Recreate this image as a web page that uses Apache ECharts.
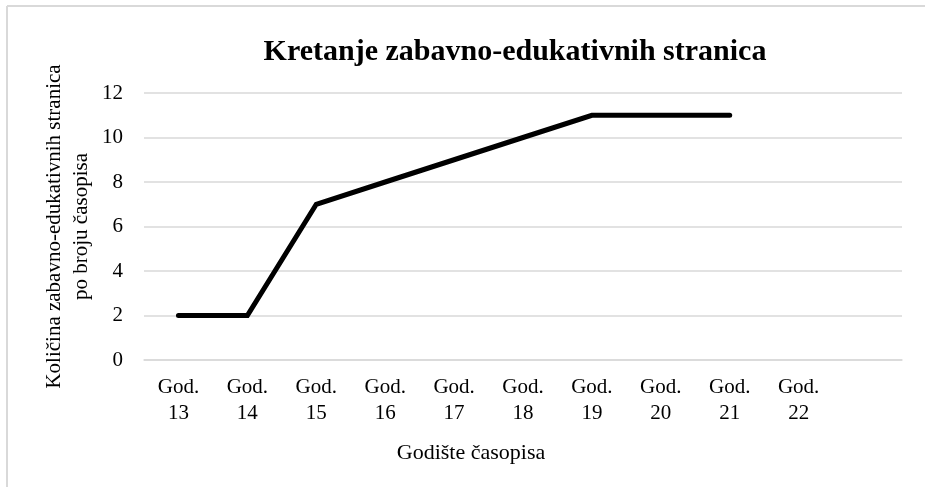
<!DOCTYPE html>
<html>
<head>
<meta charset="utf-8">
<script src="https://cdn.jsdelivr.net/npm/echarts@6/dist/echarts.min.js"></script>
<style>
html,body{margin:0;padding:0;background:#fff;overflow:hidden;}
#chart{width:925px;height:487px;}
</style>
</head>
<body>
<div id="chart"></div>
<script>
var categories = ['God.\n13','God.\n14','God.\n15','God.\n16','God.\n17','God.\n18','God.\n19','God.\n20','God.\n21','God.\n22',''];
var values = [2, 2, 7, 8, 9, 10, 11, 11, 11, null, null];
var yTicks = {min: 0, max: 12, interval: 2};
var titleText = 'Kretanje zabavno-edukativnih stranica';
var xName = 'Godište časopisa';
var yName = 'Količina zabavno-edukativnih stranica\npo broju časopisa';

var FONT = "'Liberation Serif', 'Times New Roman', serif";
var chart = echarts.init(document.getElementById('chart'), null, {renderer: 'canvas'});
chart.setOption({
  animation: false,
  backgroundColor: '#fff',
  textStyle: {fontFamily: FONT},
  graphic: [
    {type: 'line', silent: true, z: -10, shape: {x1: 7, y1: 6, x2: 925, y2: 6}, style: {stroke: '#d9d9d9', lineWidth: 2}},
    {type: 'line', silent: true, z: -10, shape: {x1: 7, y1: 6, x2: 7, y2: 487}, style: {stroke: '#d9d9d9', lineWidth: 2}}
  ],
  title: {
    text: titleText,
    left: 510, top: 32, textAlign: 'center',
    textStyle: {fontFamily: FONT, fontWeight: 'bold', fontSize: 30, color: '#000'}
  },
  grid: {left: 144, right: 23, top: 93, bottom: 127, containLabel: false},
  xAxis: {
    type: 'category',
    data: categories,
    boundaryGap: true,
    axisLine: {show: true, lineStyle: {color: '#d9d9d9', width: 1.5}},
    axisTick: {show: false},
    axisLabel: {fontFamily: FONT, fontSize: 21, color: '#000', lineHeight: 26, margin: 14, interval: 0},
    name: xName,
    nameLocation: 'middle',
    nameGap: 82,
    nameMoveOverlap: false,
    nameTextStyle: {fontFamily: FONT, fontSize: 22, color: '#000', padding: [0, 104, 0, 0]}
  },
  yAxis: {
    type: 'value',
    min: yTicks.min, max: yTicks.max, interval: yTicks.interval,
    axisLine: {show: false},
    axisTick: {show: false},
    splitLine: {lineStyle: {color: '#d9d9d9', width: 1.5}},
    axisLabel: {fontFamily: FONT, fontSize: 21, color: '#000', margin: 21},
    name: yName,
    nameLocation: 'middle',
    nameGap: 49,
    nameMoveOverlap: false,
    nameTextStyle: {fontFamily: FONT, fontSize: 21, color: '#000', lineHeight: 27, align: 'center'}
  },
  series: [{
    type: 'line',
    data: values,
    showSymbol: false,
    symbol: 'none',
    connectNulls: false,
    lineStyle: {color: '#000', width: 5, cap: 'round', join: 'miter'}
  }]
});
</script>
</body>
</html>
